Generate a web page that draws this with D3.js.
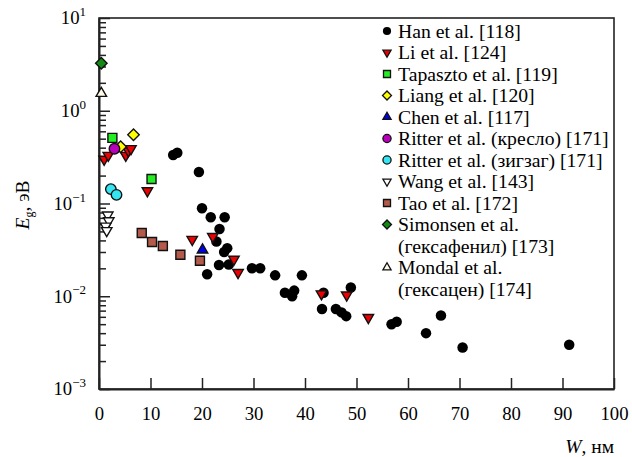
<!DOCTYPE html>
<html>
<head>
<meta charset="utf-8">
<script src="https://cdn.jsdelivr.net/npm/d3@7"></script>
<style>
  body { margin: 0; background: #fff; }
</style>
</head>
<body>
<svg id="chart" width="632" height="457"></svg>
<script>
// data: [W (nm), Eg (eV)]
const han = [[14.4, 0.333], [15.2, 0.353], [19.4, 0.219], [20.0, 0.089], [21.7, 0.071], [24.4, 0.071],
  [23.4, 0.053], [22.8, 0.039], [24.9, 0.033], [24.3, 0.030], [23.3, 0.0217], [25.2, 0.022],
  [21.0, 0.0173], [29.7, 0.020], [31.3, 0.020], [34.2, 0.0168], [39.4, 0.0168], [36.1, 0.0109],
  [37.9, 0.0115], [37.5, 0.010], [43.6, 0.0109], [43.3, 0.0073], [46.0, 0.0073], [47.1, 0.0067],
  [48.0, 0.0061], [48.9, 0.0124], [56.8, 0.0050], [57.8, 0.0053], [63.5, 0.0040], [66.4, 0.0062],
  [70.6, 0.0028], [91.3, 0.0030]];
const li = [[1.0, 0.30], [1.8, 0.33], [5.2, 0.33], [5.7, 0.37], [6.2, 0.39], [9.4, 0.137],
  [18.1, 0.041], [22.1, 0.044], [26.2, 0.025], [27.0, 0.018], [43.2, 0.0106], [48.1, 0.0103], [52.3, 0.0059]];
const tapaszto = [[2.6, 0.51], [10.2, 0.184]];
const liang = [[4.2, 0.41], [6.7, 0.55]];
const chen = [[20.1, 0.0316]];
const ritterArm = [[3.0, 0.39]];
const ritterZig = [[2.3, 0.143], [3.4, 0.124]];
const wang = [[1.7, 0.075], [1.9, 0.065], [1.3, 0.057], [1.5, 0.051]];
const tao = [[8.3, 0.048], [10.3, 0.0385], [12.4, 0.0348], [15.8, 0.028], [19.6, 0.0241]];
const simonsen = [[0.45, 3.25]];
const mondal = [[0.45, 1.54]];

const xTicks = [0, 10, 20, 30, 40, 50, 60, 70, 80, 90, 100];
const yDecades = [-3, -2, -1, 0, 1];

const series = [
  { name: ["Han et al. [118]"], data: han, shape: "circle", fill: "#000" },
  { name: ["Li et al. [124]"], data: li, shape: "down", fill: "#ee0000" },
  { name: ["Tapaszto et al. [119]"], data: tapaszto, shape: "square", fill: "#22ee22" },
  { name: ["Liang et al. [120]"], data: liang, shape: "diamond", fill: "#ffff00" },
  { name: ["Chen et al. [117]"], data: chen, shape: "up", fill: "#0000ee" },
  { name: ["Ritter et al. (кресло) [171]"], data: ritterArm, shape: "circle", fill: "#bb00bb" },
  { name: ["Ritter et al. (зигзаг) [171]"], data: ritterZig, shape: "circle", fill: "#33e6f2" },
  { name: ["Wang et al. [143]"], data: wang, shape: "down", fill: "#fff" },
  { name: ["Tao et al. [172]"], data: tao, shape: "square", fill: "#b35a4b" },
  { name: ["Simonsen et al.", "(гексафенил) [173]"], data: simonsen, shape: "diamond", fill: "#138a13" },
  { name: ["Mondal et al.", "(гексацен) [174]"], data: mondal, shape: "up", fill: "#fffbe8" }
];

const FONT = "'Liberation Serif'";
const margin = { left: 99, right: 614, top: 18, bottom: 389 };
const svg = d3.select("#chart");

const x = d3.scaleLinear().domain([0, 100]).range([margin.left, margin.right]);
const y = d3.scaleLog().domain([1e-3, 10]).range([margin.bottom, margin.top]);

// frame
svg.append("rect")
  .attr("x", margin.left).attr("y", margin.top)
  .attr("width", margin.right - margin.left).attr("height", margin.bottom - margin.top)
  .attr("fill", "none").attr("stroke", "#222").attr("stroke-width", 1.6);

// x axis
const xAxis = svg.append("g")
  .attr("transform", `translate(0,${margin.bottom})`)
  .call(d3.axisBottom(x).tickValues(xTicks).tickSizeInner(-11).tickSizeOuter(0).tickPadding(18));
xAxis.attr("font-family", null).attr("font-size", null);
xAxis.select(".domain").attr("stroke", "#222").attr("stroke-width", 2);
xAxis.selectAll(".tick line").attr("stroke", "#222").attr("stroke-width", 1.5);
xAxis.selectAll("text").style("font-size", "18.7px").style("font-family", FONT).attr("fill", "#000");

// y axis minor ticks
const minor = [];
yDecades.slice(0, -1).forEach(e => { for (let k = 2; k <= 9; k++) minor.push(k * Math.pow(10, e)); });
const yMinor = svg.append("g")
  .attr("transform", `translate(${margin.left},0)`)
  .call(d3.axisLeft(y).tickValues(minor).tickSizeInner(-7).tickSizeOuter(0).tickFormat(""));
yMinor.select(".domain").remove();
yMinor.selectAll(".tick line").attr("stroke", "#222").attr("stroke-width", 1.5);

// y axis major ticks
const yAxis = svg.append("g")
  .attr("transform", `translate(${margin.left},0)`)
  .call(d3.axisLeft(y).tickValues(yDecades.map(e => Math.pow(10, e)))
    .tickSizeInner(-11).tickSizeOuter(0).tickPadding(13).tickFormat(""));
yAxis.attr("font-family", null).attr("font-size", null);
yAxis.select(".domain").attr("stroke", "#222").attr("stroke-width", 2);
yAxis.selectAll(".tick line").attr("stroke", "#222").attr("stroke-width", 1.5);
yAxis.selectAll(".tick text").each(function (d) {
  const e = Math.round(Math.log10(d));
  const t = d3.select(this).style("font-family", FONT).attr("fill", "#000").attr("dy", "0.36em");
  t.append("tspan").style("font-size", "18.7px").text("10");
  t.append("tspan").style("font-size", "13px").attr("dy", "-0.62em")
    .text(e < 0 ? "\u2212" + (-e) : String(e));
});

// axis titles
const yt = svg.append("text")
  .attr("transform", "translate(29,205) rotate(-90)")
  .attr("text-anchor", "middle")
  .style("font-family", FONT).style("font-size", "19.5px").attr("fill", "#000");
yt.append("tspan").style("font-style", "italic").text("E");
yt.append("tspan").style("font-size", "12px").attr("dy", "4").text("g");
yt.append("tspan").attr("dy", "-4").text(", эВ");

const xt = svg.append("text")
  .attr("x", margin.right).attr("y", 453)
  .attr("text-anchor", "end")
  .style("font-family", FONT).style("font-size", "19.5px").attr("fill", "#000");
xt.append("tspan").style("font-style", "italic").text("W");
xt.append("tspan").text(", нм");

// marker shapes
function markerPath(shape, s) {
  if (shape === "circle") return d3.symbol(d3.symbolCircle, Math.PI * s * s / 4)();
  if (shape === "square") return d3.symbol(d3.symbolSquare, s * s)();
  if (shape === "diamond") return d3.symbol(d3.symbolSquare, s * s * 0.5)();
  return d3.symbol(d3.symbolTriangle, Math.sqrt(3) / 4 * s * s)();
}
function markerRotate(shape) {
  if (shape === "down") return " rotate(180)";
  if (shape === "diamond") return " rotate(45)";
  return "";
}
const sizes = { circle: 10.5, square: 9, diamond: 11.5, up: 10.5, down: 10.5 };

series.forEach(s => {
  svg.append("g").selectAll("path")
    .data(s.data)
    .join("path")
    .attr("d", markerPath(s.shape, sizes[s.shape]))
    .attr("transform", d => `translate(${x(d[0])},${y(d[1])})` + markerRotate(s.shape))
    .attr("fill", s.fill)
    .attr("stroke", s.fill === "#000" ? "none" : "#111")
    .attr("stroke-width", 1.4);
});

// legend
const legX = 387, legY = 31, rowH = 21.5;
let row = 0;
series.forEach(s => {
  const cy = legY + row * rowH;
  const ls = sizes[s.shape] * 0.78;
  svg.append("path")
    .attr("d", markerPath(s.shape, ls))
    .attr("transform", `translate(${legX},${cy})` + markerRotate(s.shape))
    .attr("fill", s.fill)
    .attr("stroke", s.fill === "#000" ? "none" : "#111")
    .attr("stroke-width", 1.3);
  s.name.forEach((line, i) => {
    svg.append("text")
      .attr("x", legX + 11).attr("y", legY + (row + i) * rowH)
      .attr("dy", "0.33em")
      .style("font-family", FONT).style("font-size", "19.7px").attr("fill", "#000")
      .text(line);
  });
  row += s.name.length;
});
</script>
</body>
</html>
